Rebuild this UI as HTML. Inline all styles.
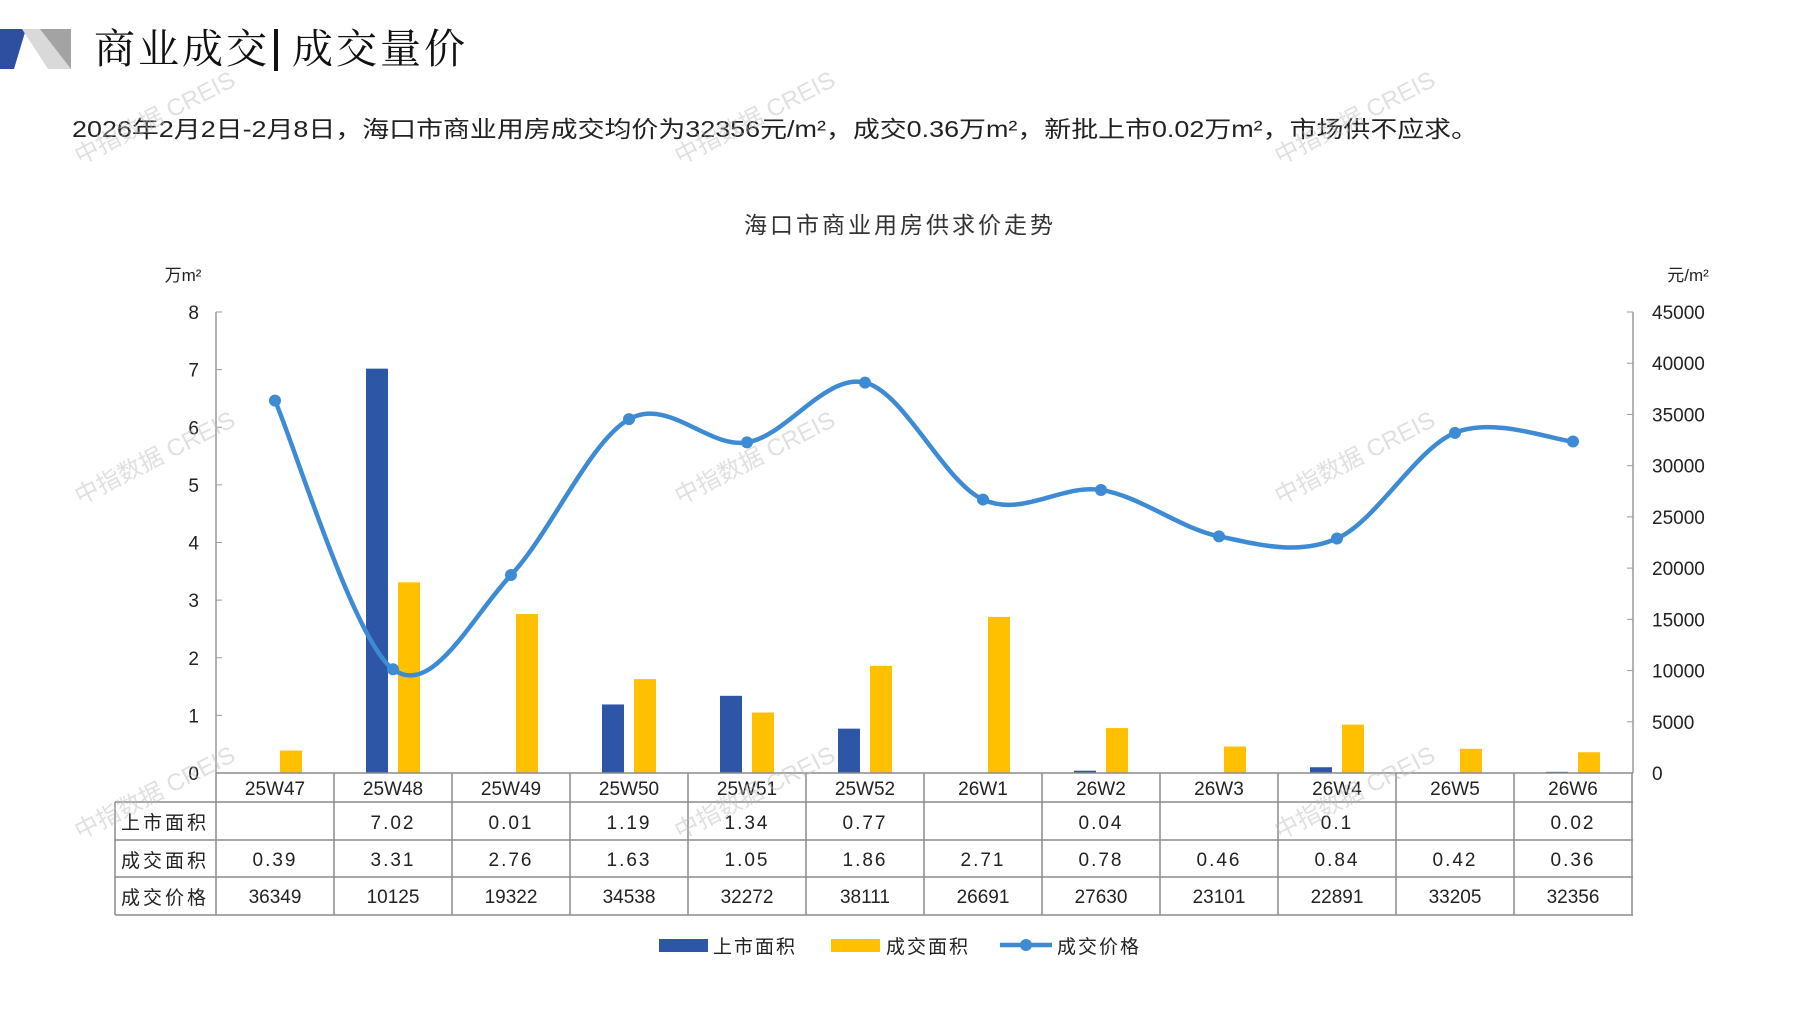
<!DOCTYPE html>
<html><head><meta charset="utf-8"><style>
body{margin:0;background:#fff;}
svg{display:block;font-family:"Liberation Sans","Noto Sans CJK SC",sans-serif;}
</style></head><body>
<svg id="s" width="1797" height="1010" viewBox="0 0 1797 1010" xmlns="http://www.w3.org/2000/svg">
<polygon points="0,29 26,29 14,69 0,69" fill="#2E4FA0"/>
<polygon points="22,29 71,29 71,69 48,69" fill="#d9d9d9"/>
<polygon points="40,29 71,29 71,69" fill="#7f7f7f" opacity="0.6"/>
<text x="94" y="63" font-size="41" fill="#111" font-family="Noto Serif CJK SC, serif" letter-spacing="3">商业成交</text>
<rect x="274" y="29" width="4" height="42" fill="#111"/>
<text x="292" y="63" font-size="41" fill="#111" font-family="Noto Serif CJK SC, serif" letter-spacing="3">成交量价</text>
<text x="72" y="137" font-size="23" fill="#222" textLength="1406" lengthAdjust="spacingAndGlyphs">2026年2月2日-2月8日，海口市商业用房成交均价为32356元/m²，成交0.36万m²，新批上市0.02万m²，市场供不应求。</text>
<text x="900" y="233" font-size="23" fill="#333" text-anchor="middle" letter-spacing="3">海口市商业用房供求价走势</text>
<text x="183" y="281" font-size="17" fill="#222" text-anchor="middle">万m²</text>
<text x="1688" y="281" font-size="17" fill="#222" text-anchor="middle">元/m²</text>
<g id="g"></g>
</svg>
<script>
var g=document.getElementById('g'),h='';
var y0=773,L=216,R=1633,cw=118;
h+='<line x1="'+L+'" y1="312" x2="'+L+'" y2="'+y0+'" stroke="#999" stroke-width="1.5"/>';
h+='<line x1="'+R+'" y1="312" x2="'+R+'" y2="'+y0+'" stroke="#999" stroke-width="1.5"/>';
for(var i=0;i<=8;i++){var y=y0-i*57.625;h+='<line x1="'+(L)+'" y1="'+y+'" x2="'+(L+6)+'" y2="'+y+'" stroke="#999"/>';
h+='<text x="199" y="'+(y+7)+'" font-size="19" text-anchor="end" fill="#222">'+i+'</text>';}
for(var i=0;i<=9;i++){var y=y0-i*461/9;h+='<line x1="'+(R-6)+'" y1="'+y+'" x2="'+R+'" y2="'+y+'" stroke="#999"/>';
h+='<text x="1652" y="'+(y+7)+'" font-size="19" fill="#222">'+(i*5000)+'</text>';}
var cats=['25W47','25W48','25W49','25W50','25W51','25W52','26W1','26W2','26W3','26W4','26W5','26W6'];
var sup=[0,7.02,0.01,1.19,1.34,0.77,0,0.04,0,0.1,0,0.02];
var supT=['','7.02','0.01','1.19','1.34','0.77','','0.04','','0.1','','0.02'];
var deal=[0.39,3.31,2.76,1.63,1.05,1.86,2.71,0.78,0.46,0.84,0.42,0.36];
var dealT=['0.39','3.31','2.76','1.63','1.05','1.86','2.71','0.78','0.46','0.84','0.42','0.36'];
var pr=[36349,10125,19322,34538,32272,38111,26691,27630,23101,22891,33205,32356];
var pts=[];
for(var i=0;i<12;i++){var c=275+cw*i;
if(sup[i]>0){var bh=sup[i]*57.6;h+='<rect x="'+(c-27)+'" y="'+(y0-bh)+'" width="22" height="'+bh+'" fill="#2E56A6"/>';}
var dh=deal[i]*57.6;h+='<rect x="'+(c+5)+'" y="'+(y0-dh)+'" width="22" height="'+dh+'" fill="#FFC000"/>';
pts.push([c,y0-pr[i]/45000*461]);}
var d='M'+pts[0][0]+','+pts[0][1];
for(var i=0;i<11;i++){var p0=pts[Math.max(i-1,0)],p1=pts[i],p2=pts[i+1],p3=pts[Math.min(i+2,11)],t=6;
d+=' C'+(p1[0]+(p2[0]-p0[0])/t)+','+(p1[1]+(p2[1]-p0[1])/t)+' '+(p2[0]-(p3[0]-p1[0])/t)+','+(p2[1]-(p3[1]-p1[1])/t)+' '+p2[0]+','+p2[1];}
h+='<path d="'+d+'" fill="none" stroke="#3D8BD4" stroke-width="4.5"/>';
pts.forEach(function(p){h+='<circle cx="'+p[0]+'" cy="'+p[1]+'" r="6" fill="#3D8BD4"/>';});
var rows=[773,802,840,877,915],TL=115,st='stroke="#8c8c8c" stroke-width="1.5"';
h+='<line x1="'+L+'" y1="773" x2="'+R+'" y2="773" '+st+'/>';
for(var r=1;r<5;r++)h+='<line x1="'+TL+'" y1="'+rows[r]+'" x2="'+R+'" y2="'+rows[r]+'" '+st+'/>';
h+='<line x1="'+TL+'" y1="802" x2="'+TL+'" y2="915" '+st+'/>';
for(var i=0;i<=12;i++){var x=L+cw*i;h+='<line x1="'+x+'" y1="773" x2="'+x+'" y2="915" '+st+'/>';}
var lab=['上市面积','成交面积','成交价格'];
for(var r=0;r<3;r++)h+='<text x="121" y="'+(rows[r+1]+27)+'" font-size="19" fill="#222" letter-spacing="3">'+lab[r]+'</text>';
for(var i=0;i<12;i++){var c=275+cw*i;
h+='<text x="'+c+'" y="795" font-size="19" text-anchor="middle" fill="#222">'+cats[i]+'</text>';
h+='<text x="'+c+'" y="829" font-size="19" text-anchor="middle" fill="#222" letter-spacing="2">'+supT[i]+'</text>';
h+='<text x="'+c+'" y="866" font-size="19" text-anchor="middle" fill="#222" letter-spacing="2">'+dealT[i]+'</text>';
h+='<text x="'+c+'" y="903" font-size="19" text-anchor="middle" fill="#222">'+pr[i]+'</text>';}
h+='<rect x="659" y="939" width="49" height="13" fill="#2E56A6"/><text x="713" y="953" font-size="19" fill="#222" letter-spacing="2">上市面积</text>';
h+='<rect x="831" y="939" width="49" height="13" fill="#FFC000"/><text x="886" y="953" font-size="19" fill="#222" letter-spacing="2">成交面积</text>';
h+='<line x1="1000" y1="945" x2="1052" y2="945" stroke="#3D8BD4" stroke-width="4.5"/><circle cx="1026" cy="945" r="6" fill="#3D8BD4"/><text x="1057" y="953" font-size="19" fill="#222" letter-spacing="2">成交价格</text>';
[[80,165],[680,165],[1280,165],[80,505],[680,505],[1280,505],[80,840],[680,840],[1280,840]].forEach(function(p){
h+='<text x="'+p[0]+'" y="'+p[1]+'" font-size="24" fill="#bbb" opacity="0.45" transform="rotate(-27 '+p[0]+' '+p[1]+')">中指数据 CREIS</text>';});
g.innerHTML=h;
</script>
</body></html>
